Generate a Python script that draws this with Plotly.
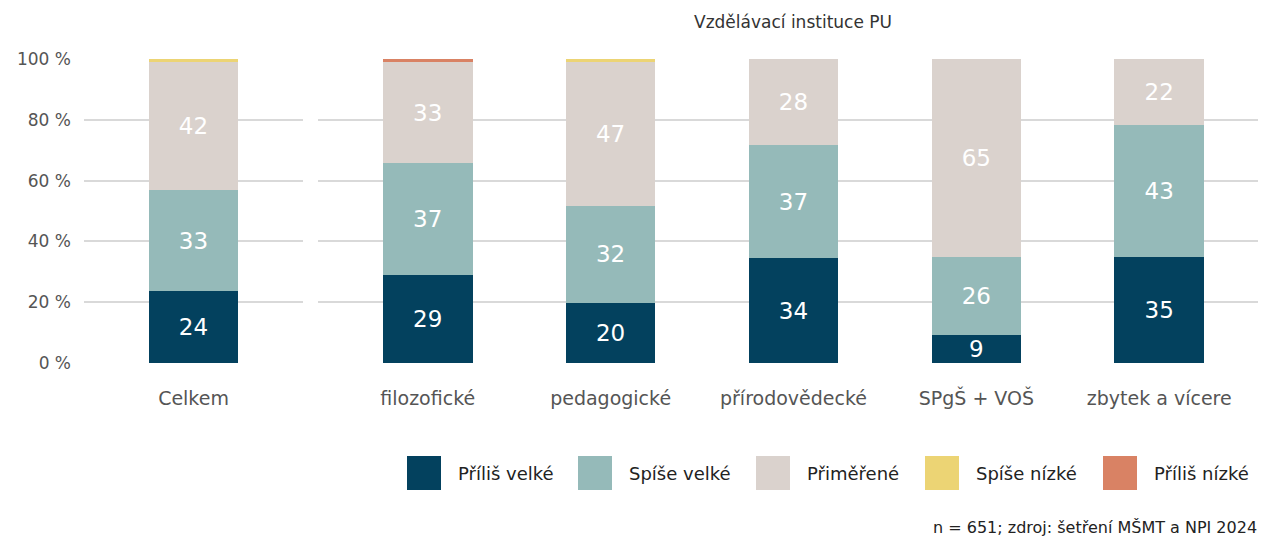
import plotly.graph_objects as go

series = ["Příliš velké", "Spíše velké", "Přiměřené", "Spíše nízké", "Příliš nízké"]
colors = ["#03415E", "#95BAB9", "#DAD2CD", "#ECD474", "#D98264"]

total_cat = ["Celkem"]
total_vals = [[23.6], [33.3], [42.2], [0.9], [0.0]]

inst_cats = ["filozofické", "pedagogické", "přírodovědecké", "SPgŠ + VOŠ", "zbytek a vícere"]
inst_vals = [
    [28.8, 19.9, 34.4, 9.1, 34.8],
    [36.9, 31.6, 37.2, 25.7, 43.4],
    [33.3, 47.4, 28.4, 65.2, 21.8],
    [0.0, 1.1, 0.0, 0.0, 0.0],
    [1.0, 0.0, 0.0, 0.0, 0.0],
]

FONT = "DejaVu Sans"
W = 1174.0   # plot area width in px
H = 304.0    # plot area height in px
X0, Y0 = 84.0, 363.0  # plot area left / bottom in px

def px(x):
    return (x - X0) / W

def py(y):
    return (Y0 - y) / H

fig = go.Figure()
for i, name in enumerate(series):
    labelled = i < 3
    fig.add_trace(go.Bar(
        x=total_cat, y=total_vals[i], name=name, marker_color=colors[i],
        marker_line_width=0, width=0.41, xaxis="x", yaxis="y",
        texttemplate="%{y:.0f}" if labelled else None,
        textposition="inside" if labelled else "none", textangle=0,
        insidetextanchor="middle", constraintext="none",
        textfont=dict(color="white", size=23, family=FONT),
        showlegend=False, hoverinfo="skip"))
for i, name in enumerate(series):
    labelled = i < 3
    fig.add_trace(go.Bar(
        x=inst_cats, y=inst_vals[i], name=name, marker_color=colors[i],
        marker_line_width=0, width=0.49, xaxis="x2", yaxis="y2",
        texttemplate="%{y:.0f}" if labelled else None,
        textposition="inside" if labelled else "none", textangle=0,
        insidetextanchor="middle", constraintext="none",
        textfont=dict(color="white", size=23, family=FONT),
        showlegend=False, hoverinfo="skip"))

ytickfont = dict(family=FONT, size=17, color="#555555")
xtickfont = dict(family=FONT, size=19, color="#555555")
ygrid = dict(range=[0, 100], tickvals=[0, 20, 40, 60, 80, 100],
             ticktext=["0 %", "20 %", "40 %", "60 %", "80 %", "100 %"],
             showgrid=True, gridcolor="#D9D9D9", gridwidth=2,
             zeroline=False, showline=False, ticks="", automargin=False)

# custom legend: colour boxes + labels
legend_box_x = [407, 578, 756, 925, 1103]
shapes = []
annotations = []
for i, name in enumerate(series):
    x0 = legend_box_x[i]
    shapes.append(dict(type="rect", xref="paper", yref="paper",
                       x0=px(x0), x1=px(x0 + 34), y0=py(490), y1=py(456),
                       fillcolor=colors[i], line=dict(width=0)))
    annotations.append(dict(text=name, xref="paper", yref="paper",
                            x=px(x0 + 49), y=py(473), xanchor="left", yanchor="middle",
                            showarrow=False,
                            font=dict(family=FONT, size=18, color="#222222")))

annotations.append(dict(text="Vzdělávací instituce PU", xref="paper", yref="paper",
                        x=px(793), y=py(22), xanchor="center", yanchor="middle",
                        showarrow=False, font=dict(family=FONT, size=17, color="#333333")))
annotations.append(dict(text="n = 651; zdroj: šetření MŠMT a NPI 2024", xref="paper", yref="paper",
                        x=px(1259), y=py(527), xanchor="right", yanchor="middle",
                        showarrow=False, font=dict(family=FONT, size=16, color="#222222")))

fig.update_layout(
    width=1261, height=538,
    margin=dict(l=84, r=3, t=59, b=175, autoexpand=False),
    plot_bgcolor="white", paper_bgcolor="white",
    barmode="stack", showlegend=False,
    font=dict(family=FONT, color="#444444"),
    xaxis=dict(domain=[0, 219 / W], range=[-0.5, 0.5], anchor="y",
               showgrid=False, zeroline=False, showline=False, ticks="",
               tickfont=xtickfont, ticklabelstandoff=22, automargin=False),
    xaxis2=dict(domain=[234 / W, 1], range=[-0.60, 4.54], anchor="y2",
                showgrid=False, zeroline=False, showline=False, ticks="",
                tickfont=xtickfont, ticklabelstandoff=22, automargin=False),
    yaxis=dict(anchor="x", tickfont=ytickfont, ticklabelstandoff=12, **ygrid),
    yaxis2=dict(anchor="x2", matches="y", showticklabels=False, **ygrid),
    shapes=shapes,
    annotations=annotations,
)

fig.write_html("out.html", config={"displayModeBar": False},
               post_script="document.body.style.margin='0';document.body.style.padding='0';")
